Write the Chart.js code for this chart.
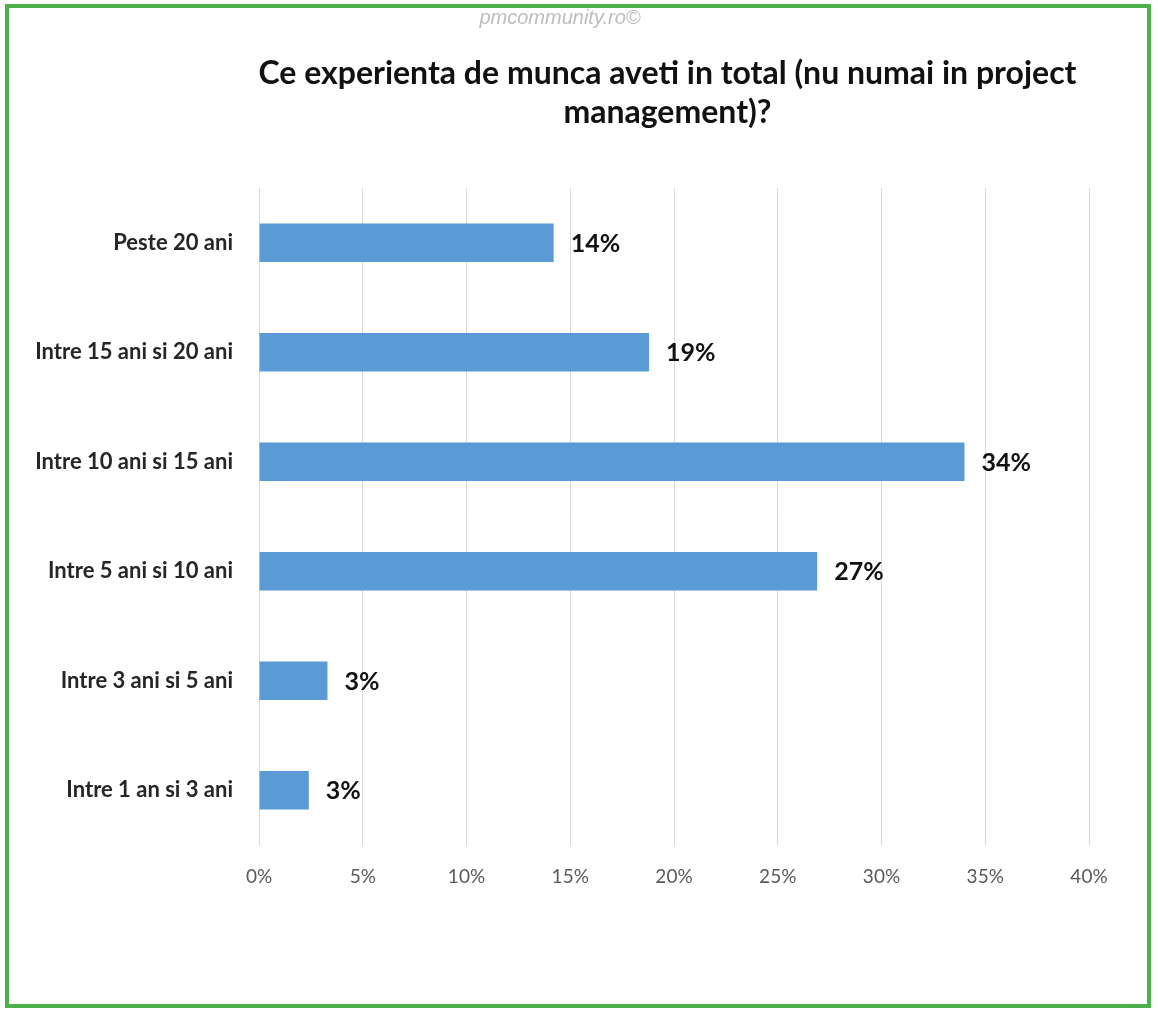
<!DOCTYPE html>
<html>
<head>
<meta charset="utf-8">
<script src="https://cdn.jsdelivr.net/npm/chart.js@4.4.1/dist/chart.umd.min.js"></script>
<style>
    html, body { margin: 0; padding: 0; background: #fff; }
    #wrap { position: relative; width: 1158px; height: 1014px; overflow: hidden; }
    #frame {
        position: absolute; left: 5px; top: 4px; width: 1146px; height: 1004px;
        border: 4px solid #4db04a; box-sizing: border-box;
    }
    #mark {
        position: absolute; left: 360px; width: 400px; top: 6px; text-align: center;
        font-family: 'Liberation Sans', sans-serif; font-style: italic;
        font-size: 20px; color: #bdbdbd;
    }
    #title {
        position: absolute; left: 225px; width: 885px; top: 52px; text-align: center;
        font-family: Lato, sans-serif; font-weight: bold; font-size: 32px;
        line-height: 39px; color: #111;
    }
    #chart { position: absolute; left: 0; top: 0; }
</style>
</head>
<body>
<div id="wrap">
    <canvas id="chart" width="1158" height="1014"></canvas>
    <div id="mark">pmcommunity.ro©</div>
    <div id="title">Ce experienta de munca aveti in total (nu numai in project<br>management)?</div>
    <div id="frame"></div>
</div>
<script>
// Data
const categories = ['Peste 20 ani', 'Intre 15 ani si 20 ani', 'Intre 10 ani si 15 ani',
    'Intre 5 ani si 10 ani', 'Intre 3 ani si 5 ani', 'Intre 1 an si 3 ani'];
const values = [14.2, 18.8, 34.0, 26.9, 3.3, 2.4];
const valueLabels = ['14%', '19%', '34%', '27%', '3%', '3%'];
const xTicks = [0, 5, 10, 15, 20, 25, 30, 35, 40];

// Bar end labels
const barLabels = {
    id: 'barLabels',
    afterDatasetsDraw(chart) {
        const c = chart.ctx;
        const meta = chart.getDatasetMeta(0);
        c.save();
        c.font = 'bold 25px Lato, sans-serif';
        c.fillStyle = '#111';
        c.textAlign = 'left';
        c.textBaseline = 'middle';
        meta.data.forEach((bar, i) => {
            c.fillText(valueLabels[i], bar.x + 17, bar.y + 1);
        });
        c.restore();
    }
};

const ctx = document.getElementById('chart').getContext('2d');
new Chart(ctx, {
    type: 'bar',
    data: {
        labels: categories,
        datasets: [{
            data: values,
            backgroundColor: '#5b9bd5',
            borderWidth: 0,
            categoryPercentage: 1,
            barPercentage: 0.35
        }]
    },
    options: {
        indexAxis: 'y',
        responsive: false,
        animation: false,
        layout: { padding: { left: 0, top: 188, right: 69, bottom: 109 } },
        plugins: {
            legend: { display: false },
            tooltip: { enabled: false }
        },
        scales: {
            x: {
                min: 0,
                max: 40,
                afterBuildTicks: (scale) => { scale.ticks = xTicks.map(v => ({ value: v })); },
                afterFit: (scale) => { scale.height = 60; },
                grid: { color: '#d9d9d9', lineWidth: 1, drawTicks: false },
                border: { display: false },
                ticks: {
                    padding: 20,
                    color: '#595959',
                    font: { family: 'Lato', size: 19 },
                    callback: (v) => v + '%'
                }
            },
            y: {
                afterFit: (scale) => { scale.width = 259; },
                grid: { display: false, drawTicks: false },
                border: { display: false },
                ticks: {
                    padding: 26,
                    color: '#262626',
                    font: { family: 'Lato', size: 22, weight: 'bold' }
                }
            }
        }
    },
    plugins: [barLabels]
});
</script>
</body>
</html>
